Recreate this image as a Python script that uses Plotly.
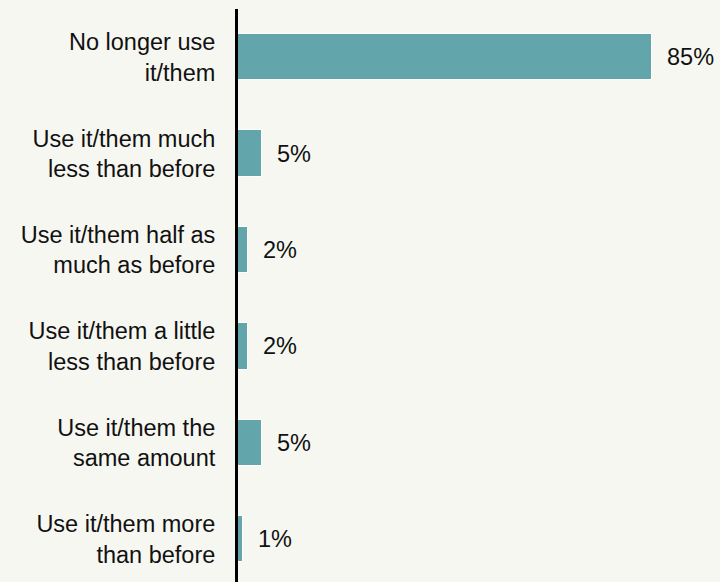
import plotly.graph_objects as go

categories = [
    "No longer use<br>it/them",
    "Use it/them much<br>less than before",
    "Use it/them half as<br>much as before",
    "Use it/them a little<br>less than before",
    "Use it/them the<br>same amount",
    "Use it/them more<br>than before",
]
values = [85, 5, 2, 2, 5, 1]
labels = ["85%", "5%", "2%", "2%", "5%", "1%"]

BG = "#f7f7f2"
BAR = "#62a6ab"
FONT = "Liberation Sans, Arial, sans-serif"
FSIZE = 23.5

ypos = list(range(len(categories)))

fig = go.Figure()
fig.add_trace(go.Bar(
    x=values,
    y=ypos,
    orientation="h",
    width=0.48,
    marker=dict(color=BAR, line=dict(color="white", width=1)),
    hoverinfo="skip",
))

for v, yv, t in zip(values, ypos, labels):
    fig.add_annotation(
        x=v, y=yv, text=t, showarrow=False,
        xanchor="left", yanchor="middle", xshift=13,
        font=dict(family=FONT, size=FSIZE, color="#111111"),
    )

fig.update_layout(
    width=720, height=582,
    margin=dict(l=238, r=0, t=9, b=0),
    paper_bgcolor=BG, plot_bgcolor=BG,
    showlegend=False,
    bargap=0,
    xaxis=dict(range=[0, 99.0], visible=False, fixedrange=True),
    yaxis=dict(
        range=[5.444, -0.5],
        tickvals=ypos, ticktext=categories,
        showgrid=False, zeroline=False,
        showline=True, linecolor="#000000", linewidth=3,
        ticks="", ticklabelstandoff=15,
        tickfont=dict(family=FONT, size=FSIZE, color="#111111"),
        fixedrange=True,
    ),
)

fig.write_html("out.html")
